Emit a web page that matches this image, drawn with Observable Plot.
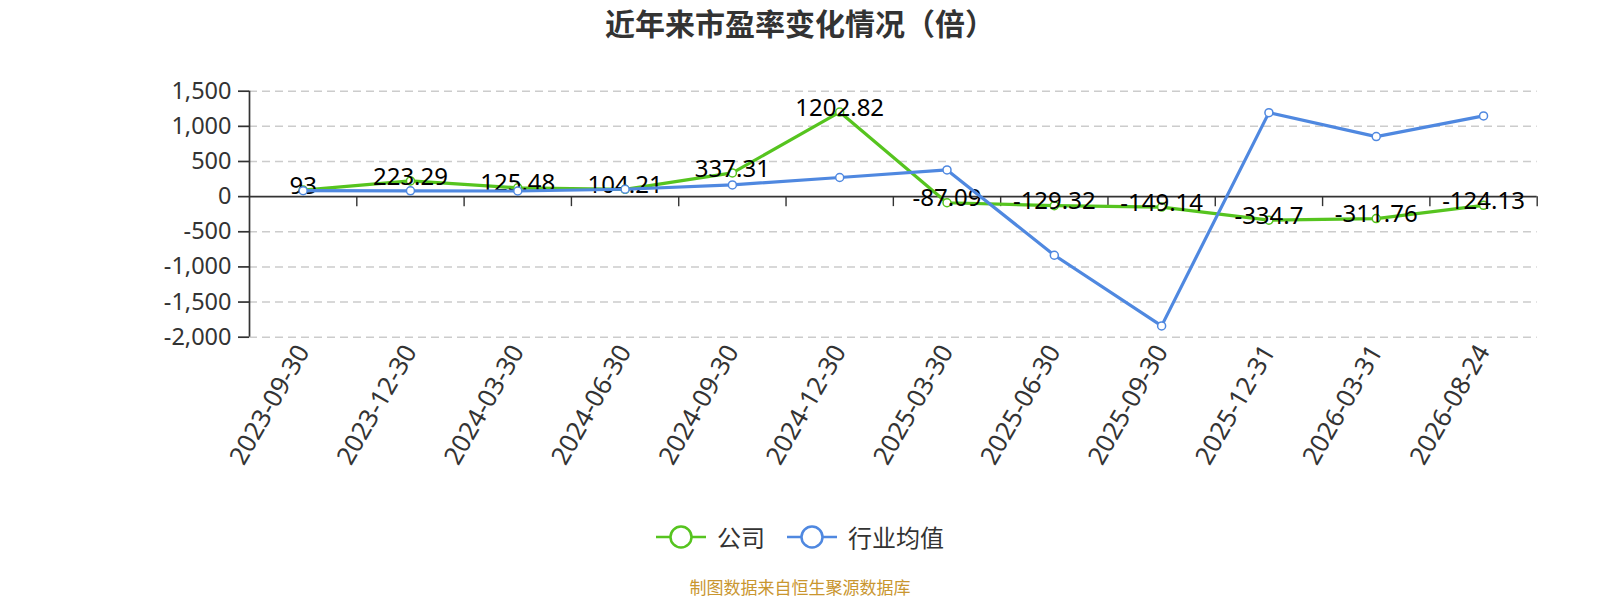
<!DOCTYPE html>
<html><head><meta charset="utf-8">
<script src="https://cdn.jsdelivr.net/npm/d3@7"></script>
<script src="https://cdn.jsdelivr.net/npm/@observablehq/plot@0.6"></script>
<style>
body{margin:0;background:#fff;}
#wrap{position:relative;width:1600px;height:600px;overflow:hidden;font-family:"Noto Sans","Noto Sans CJK SC",sans-serif;background:#fff;}
#title{position:absolute;left:0;top:0;width:1600px;text-align:center;line-height:44px;font-size:30px;font-weight:700;color:#333;font-family:"Noto Sans CJK SC",sans-serif;}
#chart{position:absolute;left:0;top:50px;}
#legend{position:absolute;left:0;top:522px;width:1600px;height:30px;display:flex;justify-content:center;align-items:center;font-family:"Noto Sans CJK SC",sans-serif;font-size:24px;color:#333;}
.item{display:flex;align-items:center;margin:0 11px;line-height:30px;}
.item svg{margin-right:11px;display:block;}
#caption{position:absolute;left:0;top:577px;width:1600px;text-align:center;line-height:20px;font-size:17px;color:#c9962f;font-family:"Noto Sans CJK SC",sans-serif;}
</style></head>
<body>
<div id="wrap">
  <div id="title"></div>
  <div id="chart"></div>
  <div id="legend"></div>
  <div id="caption"></div>
</div>
<script>
const titleText = "近年来市盈率变化情况（倍）";
const captionText = "制图数据来自恒生聚源数据库";
const categories = ["2023-09-30","2023-12-30","2024-03-30","2024-06-30","2024-09-30","2024-12-30","2025-03-30","2025-06-30","2025-09-30","2025-12-31","2026-03-31","2026-08-24"];
const company = [93, 223.29, 125.48, 104.21, 337.31, 1202.82, -87.09, -129.32, -149.14, -334.7, -311.76, -124.13];
const industry = [85, 82, 80, 105, 167, 272, 380, -834, -1839, 1195, 854, 1148];
const yTicks = [-2000, -1500, -1000, -500, 0, 500, 1000, 1500];
const seriesNames = ["公司", "行业均值"];
const colors = ["#56c41f", "#4f88e0"];

document.getElementById("title").textContent = titleText;
document.getElementById("caption").textContent = captionText;

const idx = categories.map((_, i) => i);
const boundaries = [...idx.map(i => i - 0.5), categories.length - 0.5];
const companyRows = company.map((v, i) => ({i, v}));
const industryRows = industry.map((v, i) => ({i, v}));
const fmt = d3.format(",");
const yFormat = d => fmt(d).replace("\u2212", "-");

const chart = Plot.plot({
  width: 1600, height: 440,
  marginTop: 40.7, marginBottom: 153.3, marginLeft: 249, marginRight: 63.3,
  x: {type: "linear", domain: [-0.5, categories.length - 0.5]},
  y: {type: "linear", domain: [-2000, 1500]},
  style: {fontFamily: "'Noto Sans','Noto Sans CJK SC',sans-serif", background: "#fff", overflow: "visible"},
  marks: [
    Plot.gridY({ticks: yTicks.filter(t => t !== 0), stroke: "#ccc", strokeOpacity: 1, strokeWidth: 1.5, strokeDasharray: "8,5"}),
    Plot.axisY({ticks: yTicks, tickFormat: yFormat, tickSize: 11, tickPadding: 7, fontSize: 23.5, color: "#333", strokeWidth: 1.7, label: null}),
    Plot.axisX({ticks: idx, tickFormat: i => categories[i], tickRotate: -60, tickSize: 0, tickPadding: 10, fontSize: 25.5, color: "#333", label: null}),
    Plot.ruleX([-0.5], {stroke: "#333", strokeWidth: 1.7}),
    Plot.ruleY([0], {stroke: "#333", strokeWidth: 1.7}),
    Plot.ruleX(boundaries.slice(1), {x: d => d, y1: 0, y2: 0, insetBottom: -10, stroke: "#333", strokeWidth: 1.4}),
    Plot.line(companyRows, {x: "i", y: "v", stroke: colors[0], strokeWidth: 3.2}),
    Plot.dot(companyRows, {x: "i", y: "v", r: 4, fill: "#fff", stroke: colors[0], strokeWidth: 1.5}),
    Plot.text(companyRows, {x: "i", y: "v", text: d => String(d.v), dy: -4, fontSize: 24, fill: "#000"}),
    Plot.line(industryRows, {x: "i", y: "v", stroke: colors[1], strokeWidth: 3.2}),
    Plot.dot(industryRows, {x: "i", y: "v", r: 4, fill: "#fff", stroke: colors[1], strokeWidth: 1.5})
  ]
});
document.getElementById("chart").appendChild(chart);

const legend = document.getElementById("legend");
seriesNames.forEach((name, k) => {
  const item = document.createElement("div");
  item.className = "item";
  item.innerHTML = `<svg width="50" height="26" viewBox="0 0 50 26"><line x1="0" y1="13" x2="50" y2="13" stroke="${colors[k]}" stroke-width="2.5"/><circle cx="25" cy="13" r="10.5" fill="#fff" stroke="${colors[k]}" stroke-width="2.5"/></svg>`;
  const span = document.createElement("span");
  span.textContent = name;
  item.appendChild(span);
  legend.appendChild(item);
});
</script>
</body></html>
